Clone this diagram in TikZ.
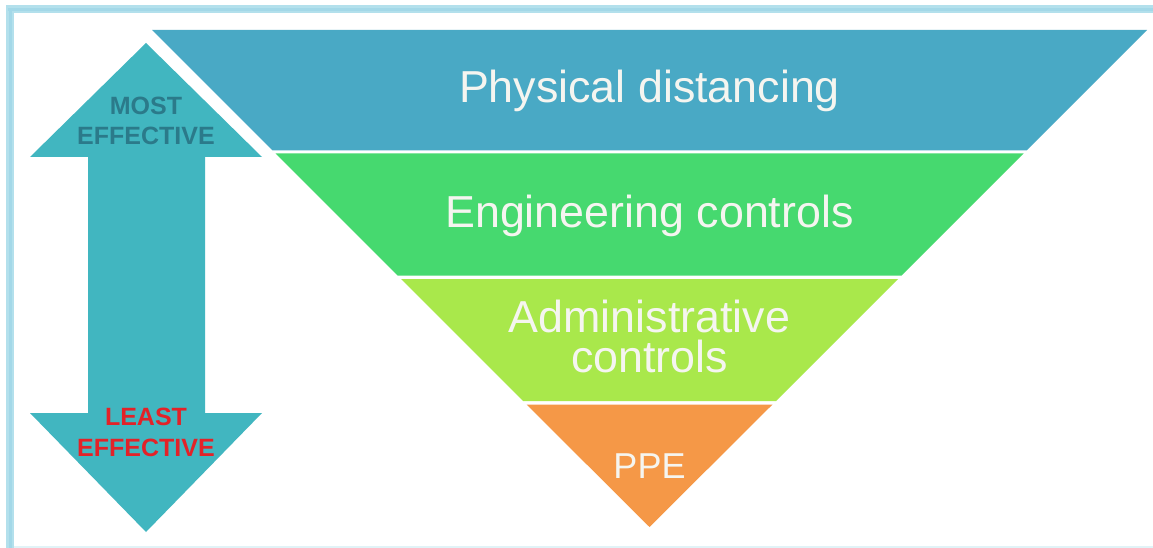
\documentclass[tikz,border=0pt]{standalone}
\usepackage{fontspec}
\setmainfont{Liberation Sans}
\definecolor{bandblue}{HTML}{49A9C5}
\definecolor{bandgreen}{HTML}{46D96F}
\definecolor{bandlime}{HTML}{A9E84B}
\definecolor{bandorange}{HTML}{F59847}
\definecolor{arrowteal}{HTML}{41B6C0}
\definecolor{mosttxt}{HTML}{2B7A8A}
\definecolor{leasttxt}{HTML}{E32228}
\definecolor{frameout}{HTML}{B3E0EC}
\definecolor{framein}{HTML}{A3D8E8}
\definecolor{bandtxt}{HTML}{F5F5F0}
\tikzset{
  bandlabel/.style={anchor=base, text=bandtxt, inner sep=0pt, align=center, font=\fontsize{44.8}{40}\selectfont},
  arrowlabel/.style={anchor=base, inner sep=0pt, align=center, font=\bfseries\fontsize{25}{30.5}\selectfont},
}
\begin{document}
\begin{tikzpicture}[x=1pt,y=-1pt]
\useasboundingbox (0,0) rectangle (1153,548);
\fill[white] (0,0) rectangle (1153,548);
% frame
\fill[frameout] (6,5) rectangle (1153,13);
\fill[frameout] (6,5) rectangle (14,548);
\fill[framein] (8,8) rectangle (1153,11);
\fill[framein] (9,8) rectangle (12,548);
\fill[white] (14,13) rectangle (1153,546);
\fill[frameout!40] (14,546) rectangle (1153,548);
% double arrow
\fill[arrowteal] (146,43) -- (262,157) -- (205,157) -- (205,413) -- (262,413)
  -- (146,532) -- (30,413) -- (88,413) -- (88,157) -- (30,157) -- cycle;
\node[arrowlabel, text=mosttxt] (most) at (146,145) {MOST\\EFFECTIVE};
\node[arrowlabel, text=leasttxt] (least) at (146,456) {LEAST\\EFFECTIVE};
% inverted pyramid bands
\fill[bandblue] (152,30) -- (1147,30) -- (1026.5,150.5) -- (272.5,150.5) -- cycle;
\fill[bandgreen] (275.5,153.5) -- (1023.5,153.5) -- (901.5,275.5) -- (397.5,275.5) -- cycle;
\fill[bandlime] (401,279) -- (898,279) -- (776,401) -- (523,401) -- cycle;
\fill[bandorange] (526.5,404.5) -- (772.5,404.5) -- (649.5,527) -- cycle;
% labels
\node[bandlabel] (phys) at (649.5,103) {Physical distancing};
\node[bandlabel] (eng) at (649.5,227) {Engineering controls};
\node[bandlabel] (adm) at (649.5,372) {Administrative\\controls};
\node[bandlabel, font=\fontsize{36}{36}\selectfont] (ppe) at (649.5,478) {PPE};
\end{tikzpicture}
\end{document}
